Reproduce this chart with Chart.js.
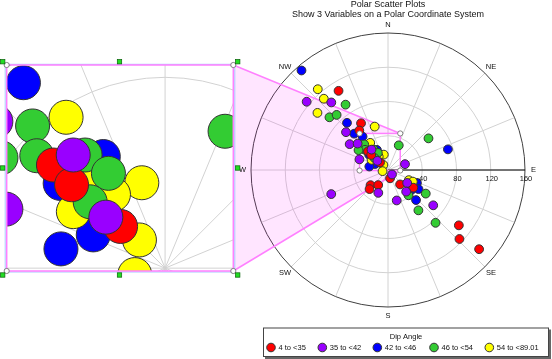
<!DOCTYPE html>
<html>
<head>
<meta charset="utf-8">
<script src="https://cdn.jsdelivr.net/npm/chart.js@4.4.0/dist/chart.umd.min.js"></script>
<style>
  html, body { margin: 0; padding: 0; background: #fff; }
  #wrap { position: relative; width: 552px; height: 359px; }
  #main { position: absolute; left: 0; top: 0; }
  #zoom { position: absolute; left: 0; top: 58px; }
</style>
</head>
<body>
<div id="wrap">
  <canvas id="main" width="552" height="359"></canvas>
  <canvas id="zoom" width="245" height="222"></canvas>
</div>
<script>
// Polar scatter: azimuth (deg, clockwise from N), distance, coloured by dip angle class

const dipClasses = ["4 to <35", "35 to <42", "42 to <46", "46 to <54", "54 to <89.01"];
const classColors = ["#ff0000", "#9900ff", "#0000ff", "#33cc33", "#ffff00"];
// stacking: lower number is drawn on top
const classOrder = [1, 0, 4, 2, 3];

const azimuth4to35 = [328, 330, 324, 166, 229, 224, 213, 140, 125, 128, 134, 131, 312.8, 311.8, 313.2];
const distance4to35 = [109, 63, 57, 10, 27, 31, 21, 22, 36, 105, 116, 141, 31.9, 26.3, 12.8];

const azimuth35to42 = [310, 320, 312, 304, 71, 138, 203, 247, 164, 124, 140, 128, 311, 321, 310.8, 290.4];
const distance35to42 = [124, 103, 66, 54, 21, 7, 29, 72, 37, 27, 33, 67, 47, 30.6, 16.4, 35.6];

const azimuth42to46 = [319, 319, 317, 71, 120, 114, 122, 130, 137, 322.7, 331.1, 309, 294.9, 280.5];
const distance42to46 = [154, 73, 58, 74, 30, 37, 42, 36, 48, 49, 26.8, 28.3, 16.6, 22.2];

const azimuth46to54 = [327, 312, 317, 52, 141, 122, 143, 138, 317.1, 311.3, 304, 324.8, 329.2, 311.6, 23.6];
const distance46to54 = [91, 92, 88, 60, 38, 52, 59, 83, 40.8, 35.8, 41.5, 29.1, 23.2, 21, 31.4];

const azimuth54to89 = [319, 318, 309, 343, 116, 115, 326.8, 323, 344.8, 301.7, 325.1, 317.8, 258];
const distance54to89 = [125, 112, 106, 53, 27, 32, 37.9, 23.2, 18.6, 22.6, 18.9, 8, 6.5];

const radialTicks = [40, 80, 120, 160];
const compassLabels = ["N", "NE", "E", "SE", "S", "SW", "W", "NW"];
// magnified window (x = east, y = north, same units as distance)
const zoomX = [-33.2, 14.3];
const zoomY = [-0.6, 42.7];

const azimuths = [azimuth4to35, azimuth35to42, azimuth42to46, azimuth46to54, azimuth54to89];
const distances = [distance4to35, distance35to42, distance42to46, distance46to54, distance54to89];

const FONT = '"Liberation Sans", Arial, sans-serif';
const PINK = "#ff80ff";

function toXY(az, r) {
  const a = az * Math.PI / 180;
  return { x: r * Math.sin(a), y: r * Math.cos(a) };
}

function makeDatasets(radius) {
  return dipClasses.map((label, i) => ({
    label,
    order: classOrder[i],
    data: azimuths[i].map((a, k) => toXY(a, distances[i][k])),
    backgroundColor: classColors[i],
    borderColor: "#333",
    borderWidth: 1,
    pointRadius: radius,
    pointHoverRadius: radius
  }));
}

function axisOpts(range) {
  return { type: "linear", min: range[0], max: range[1], display: false };
}

function drawPolarGrid(chart, pad, withAxis) {
  const { ctx, chartArea, scales: { x, y } } = chart;
  const cx = x.getPixelForValue(0), cy = y.getPixelForValue(0);
  const unit = x.getPixelForValue(1) - cx;
  const rMax = radialTicks[radialTicks.length - 1];
  ctx.save();
  ctx.beginPath();
  ctx.rect(chartArea.left - pad, chartArea.top - pad, chartArea.width + 2 * pad, chartArea.height + 2 * pad);
  ctx.clip();
  ctx.lineWidth = 1;
  ctx.strokeStyle = "#d2d2d2";
  for (let k = 0; k < 16; k++) {
    const a = k * 22.5 * Math.PI / 180;
    ctx.beginPath();
    ctx.moveTo(cx, cy);
    ctx.lineTo(cx + rMax * unit * Math.sin(a), cy - rMax * unit * Math.cos(a));
    ctx.stroke();
  }
  radialTicks.slice(0, -1).forEach(r => {
    ctx.beginPath();
    ctx.arc(cx, cy, r * unit, 0, 2 * Math.PI);
    ctx.stroke();
  });
  ctx.strokeStyle = "#404040";
  ctx.beginPath();
  ctx.arc(cx, cy, rMax * unit, 0, 2 * Math.PI);
  ctx.stroke();
  if (withAxis) {
    ctx.strokeStyle = "#000";
    ctx.beginPath();
    ctx.moveTo(cx, cy);
    ctx.lineTo(cx + rMax * unit, cy);
    ctx.stroke();
  }
  ctx.restore();
}

// inset rectangle on the page (left chart)
const inset = { left: 6.7, top: 65, right: 233.3, bottom: 271 };

const mainPlugin = {
  id: "polarMain",
  beforeDatasetsDraw(chart) {
    drawPolarGrid(chart, 2, true);
    const { ctx, scales: { x, y } } = chart;
    const bx0 = x.getPixelForValue(zoomX[0]), bx1 = x.getPixelForValue(zoomX[1]);
    const by0 = y.getPixelForValue(zoomY[1]), by1 = y.getPixelForValue(zoomY[0]);
    ctx.save();
    ctx.beginPath();
    ctx.moveTo(inset.right, inset.top);
    ctx.lineTo(bx1, by0);
    ctx.lineTo(bx1, by1);
    ctx.lineTo(inset.right, inset.bottom);
    ctx.closePath();
    ctx.rect(bx0, by0, bx1 - bx0, by1 - by0);
    ctx.fillStyle = "rgba(255, 0, 255, 0.1)";
    ctx.fill("evenodd");
    ctx.strokeStyle = PINK;
    ctx.lineWidth = 1.5;
    ctx.beginPath();
    ctx.moveTo(inset.right, inset.top);
    ctx.lineTo(bx1, by0);
    ctx.moveTo(inset.right, inset.bottom);
    ctx.lineTo(bx1, by1);
    ctx.stroke();
    ctx.strokeRect(bx0, by0, bx1 - bx0, by1 - by0);
    ctx.restore();
  },
  afterDatasetsDraw(chart) {
    const { ctx, scales: { x, y } } = chart;
    const cx = x.getPixelForValue(0), cy = y.getPixelForValue(0);
    const unit = x.getPixelForValue(1) - cx;
    const rMax = radialTicks[radialTicks.length - 1];
    ctx.save();
    // handles on the zoom box
    const bx0 = x.getPixelForValue(zoomX[0]), bx1 = x.getPixelForValue(zoomX[1]);
    const by0 = y.getPixelForValue(zoomY[1]), by1 = y.getPixelForValue(zoomY[0]);
    [[bx0, by0], [bx1, by0], [bx0, by1], [bx1, by1]].forEach(([px, py]) => {
      ctx.beginPath();
      ctx.arc(px, py, 2.6, 0, 2 * Math.PI);
      ctx.fillStyle = "#fff";
      ctx.fill();
      ctx.strokeStyle = "#666";
      ctx.lineWidth = 0.8;
      ctx.stroke();
    });

    // title
    ctx.fillStyle = "#111";
    ctx.textAlign = "center";
    ctx.textBaseline = "middle";
    ctx.font = "9px " + FONT;
    ctx.fillText("Polar Scatter Plots", cx, 5);
    ctx.fillText("Show 3 Variables on a Polar Coordinate System", cx, 14.5);

    // compass labels
    ctx.font = "7.5px " + FONT;
    compassLabels.forEach((lab, k) => {
      const a = k * 45 * Math.PI / 180;
      const rr = (rMax + 10) * unit;
      ctx.fillText(lab, cx + rr * Math.sin(a), cy - rr * Math.cos(a));
    });
    // radial tick labels
    radialTicks.forEach(r => {
      ctx.fillText(String(r), cx + r * unit + 1, cy + 9);
    });

    // legend
    const lg = { left: 263, top: 327.5, right: 549, bottom: 357 };
    ctx.fillStyle = "#666";
    ctx.fillRect(lg.left + 2, lg.top + 2, lg.right - lg.left, lg.bottom - lg.top);
    ctx.fillStyle = "#fff";
    ctx.fillRect(lg.left, lg.top, lg.right - lg.left, lg.bottom - lg.top);
    ctx.strokeStyle = "#444";
    ctx.lineWidth = 1;
    ctx.strokeRect(lg.left + 0.5, lg.top + 0.5, lg.right - lg.left - 1, lg.bottom - lg.top - 1);
    ctx.fillStyle = "#111";
    ctx.font = "7.5px " + FONT;
    ctx.fillText("Dip Angle", (lg.left + lg.right) / 2, 337);
    const itemX = [271, 322.3, 377.3, 434, 489.3];
    ctx.textAlign = "left";
    dipClasses.forEach((lab, i) => {
      ctx.beginPath();
      ctx.arc(itemX[i], 347.5, 4.3, 0, 2 * Math.PI);
      ctx.fillStyle = classColors[i];
      ctx.fill();
      ctx.strokeStyle = "#333";
      ctx.stroke();
      ctx.fillStyle = "#111";
      ctx.fillText(lab, itemX[i] + 7.5, 347.8);
    });
    ctx.restore();
  }
};

const zoomPlugin = {
  id: "polarZoom",
  beforeDraw(chart) {
    const { ctx, chartArea } = chart;
    ctx.save();
    ctx.fillStyle = "#fff";
    ctx.fillRect(chartArea.left, chartArea.top, chartArea.width, chartArea.height);
    ctx.restore();
  },
  beforeDatasetsDraw(chart) {
    drawPolarGrid(chart, 0, false);
  },
  afterDraw(chart) {
    const { ctx, chartArea: a } = chart;
    ctx.save();
    ctx.strokeStyle = "#a8c8ff";
    ctx.lineWidth = 1;
    ctx.strokeRect(a.left - 1.5, a.top - 0.7, a.width + 3, a.height + 1.7);
    ctx.strokeStyle = PINK;
    ctx.lineWidth = 1.5;
    ctx.strokeRect(a.left, a.top, a.width, a.height);
    [[a.left, a.top], [a.right, a.top], [a.left, a.bottom], [a.right, a.bottom]].forEach(([px, py]) => {
      ctx.beginPath();
      ctx.arc(px, py, 2.6, 0, 2 * Math.PI);
      ctx.fillStyle = "#fff";
      ctx.fill();
      ctx.strokeStyle = "#666";
      ctx.lineWidth = 0.8;
      ctx.stroke();
    });
    const hx = [a.left - 4, (a.left + a.right) / 2 - 0.5, a.right + 4.4];
    const hy = [a.top - 3.3, (a.top + a.bottom) / 2, a.bottom + 4];
    hx.forEach((px, i) => hy.forEach((py, j) => {
      if (i === 1 && j === 1) return;
      ctx.fillStyle = "#22dd22";
      ctx.fillRect(px - 2.2, py - 2.2, 4.4, 4.4);
      ctx.strokeStyle = "#075f07";
      ctx.lineWidth = 0.7;
      ctx.strokeRect(px - 2.2, py - 2.2, 4.4, 4.4);
    }));
    ctx.restore();
  }
};

const commonOptions = {
  responsive: false,
  animation: false,
  devicePixelRatio: 1,
  events: [],
  plugins: { legend: { display: false }, tooltip: { enabled: false }, title: { display: false } }
};

new Chart(document.getElementById("main"), {
  type: "scatter",
  data: { datasets: makeDatasets(4.4) },
  options: {
    ...commonOptions,
    layout: { autoPadding: false, padding: { left: 251, right: 27, top: 33, bottom: 52 } },
    scales: { x: axisOpts([-160, 160]), y: axisOpts([-160, 160]) }
  },
  plugins: [mainPlugin]
});

new Chart(document.getElementById("zoom"), {
  type: "scatter",
  data: { datasets: makeDatasets(17) },
  options: {
    ...commonOptions,
    layout: { autoPadding: false, padding: { left: inset.left, right: 245 - inset.right, top: inset.top - 58, bottom: 222 - (inset.bottom - 58) } },
    scales: { x: axisOpts(zoomX), y: axisOpts(zoomY) }
  },
  plugins: [zoomPlugin]
});
</script>
</body>
</html>
